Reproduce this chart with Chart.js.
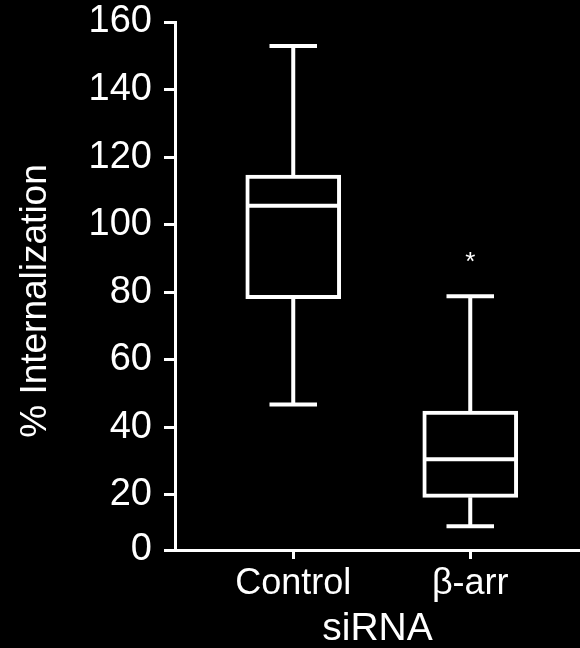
<!DOCTYPE html>
<html lang="en">
<head>
    <meta charset="UTF-8">
    <title>siRNA Internalization Box Plot</title>
    <script src="https://cdn.jsdelivr.net/npm/chart.js"></script>
    <style>
        body {
            margin: 0;
            background: #000;
        }
        #boxChart {
            display: block;
        }
    </style>
</head>
<body>

    <canvas id="boxChart" width="580" height="648"></canvas>

    <script>
        // Box plot values (% internalization)
        const groups = ['Control', 'β-arr'];
        const groupPos = [1, 2];
        const whiskerLow = [46.8, 10.7];
        const quartileLow = [78.1, 19.3];
        const medians = [105.6, 30.6];
        const quartileHigh = [114.7, 44.8];
        const whiskerHigh = [152.9, 78.8];
        const sigMarks = ['', '*'];

        // The original puts its "0" label on the bottom edge of the axis,
        // a bit above where zero would fall on the 20..160 spacing
        const yAxisFloor = 3.7;
        const yTickValues = [yAxisFloor, 20, 40, 60, 80, 100, 120, 140, 160];
        const yTickLabels = ['0', '20', '40', '60', '80', '100', '120', '140', '160'];

        const yTitle = '% Internalization';
        const xTitle = 'siRNA';

        const fontFamily = '"Liberation Sans", Arial, sans-serif';

        // Whiskers, caps, medians, significance mark and the rotated y title
        const boxPlotPlugin = {
            id: 'boxPlot',
            beforeDraw(chart) {
                const ctx = chart.ctx;
                ctx.save();
                ctx.fillStyle = '#000';
                ctx.fillRect(0, 0, chart.width, chart.height);
                ctx.restore();
            },
            afterDatasetsDraw(chart) {
                const ctx = chart.ctx;
                const x = chart.scales.x;
                const y = chart.scales.y;
                const bars = chart.getDatasetMeta(0).data;
                ctx.save();
                ctx.strokeStyle = '#fff';
                ctx.fillStyle = '#fff';
                ctx.lineWidth = 4;
                groupPos.forEach((pos, i) => {
                    const cx = x.getPixelForValue(pos);
                    const half = bars[i].width / 2;
                    const hi = y.getPixelForValue(whiskerHigh[i]);
                    const lo = y.getPixelForValue(whiskerLow[i]);
                    const med = y.getPixelForValue(medians[i]);
                    ctx.beginPath();
                    ctx.moveTo(cx, y.getPixelForValue(quartileHigh[i]));
                    ctx.lineTo(cx, hi);
                    ctx.moveTo(cx, y.getPixelForValue(quartileLow[i]));
                    ctx.lineTo(cx, lo);
                    ctx.moveTo(cx - half / 2, hi);
                    ctx.lineTo(cx + half / 2, hi);
                    ctx.moveTo(cx - half / 2, lo);
                    ctx.lineTo(cx + half / 2, lo);
                    ctx.moveTo(cx - half + 2, med);
                    ctx.lineTo(cx + half - 2, med);
                    ctx.stroke();
                    if (sigMarks[i]) {
                        ctx.font = '26px ' + fontFamily;
                        ctx.textAlign = 'center';
                        ctx.textBaseline = 'middle';
                        ctx.fillText(sigMarks[i], cx, hi - 33);
                    }
                });
                ctx.restore();
            },
            afterDraw(chart) {
                const ctx = chart.ctx;
                ctx.save();
                ctx.translate(36, 301);
                ctx.rotate(-Math.PI / 2);
                ctx.fillStyle = '#fff';
                ctx.font = '37px ' + fontFamily;
                ctx.textAlign = 'center';
                ctx.textBaseline = 'middle';
                ctx.fillText(yTitle, 0, 0);
                ctx.restore();
            }
        };

        const ctx = document.getElementById('boxChart').getContext('2d');
        const boxChart = new Chart(ctx, {
            type: 'bar',
            data: {
                datasets: [{
                    data: groupPos.map((pos, i) => ({ x: pos, y: [quartileLow[i], quartileHigh[i]] })),
                    backgroundColor: '#000',
                    borderColor: '#fff',
                    borderWidth: 4,
                    borderSkipped: false,
                    barThickness: 95
                }]
            },
            options: {
                responsive: false,
                animation: false,
                devicePixelRatio: 1,
                layout: {
                    padding: { top: 22, right: 0, bottom: 0, left: 0 }
                },
                plugins: {
                    legend: { display: false },
                    tooltip: { enabled: false }
                },
                scales: {
                    x: {
                        type: 'linear',
                        offset: false,
                        min: 0.332,
                        max: 2.62,
                        afterBuildTicks: (scale) => {
                            scale.ticks = groupPos.map(v => ({ value: v }));
                        },
                        afterFit: (scale) => {
                            scale.height = 98;
                            scale.paddingLeft = 0;
                            scale.paddingRight = 0;
                        },
                        border: { display: true, color: '#fff', width: 3 },
                        grid: {
                            display: true,
                            offset: false,
                            drawOnChartArea: false,
                            drawTicks: true,
                            tickLength: 9,
                            color: '#fff',
                            lineWidth: 3
                        },
                        ticks: {
                            color: '#fff',
                            padding: 3,
                            maxRotation: 0,
                            autoSkip: false,
                            font: { family: fontFamily, size: 36 },
                            callback: (value) => groups[groupPos.indexOf(value)]
                        },
                        title: {
                            display: true,
                            text: xTitle,
                            color: '#fff',
                            padding: 0,
                            font: { family: fontFamily, size: 39, lineHeight: 0.95 }
                        }
                    },
                    y: {
                        min: yAxisFloor,
                        max: 160,
                        afterBuildTicks: (scale) => {
                            scale.ticks = yTickValues.map(v => ({ value: v }));
                        },
                        afterFit: (scale) => {
                            scale.width = 175;
                            scale.paddingTop = 0;
                            scale.paddingBottom = 0;
                        },
                        border: { display: true, color: '#fff', width: 3 },
                        grid: {
                            display: true,
                            drawOnChartArea: false,
                            drawTicks: true,
                            tickLength: 11,
                            color: '#fff',
                            lineWidth: 3
                        },
                        ticks: {
                            color: '#fff',
                            padding: 12,
                            autoSkip: false,
                            font: { family: fontFamily, size: 38, lineHeight: 1 },
                            callback: (value) => yTickLabels[yTickValues.indexOf(value)]
                        }
                    }
                }
            },
            plugins: [boxPlotPlugin]
        });
    </script>

</body>
</html>
